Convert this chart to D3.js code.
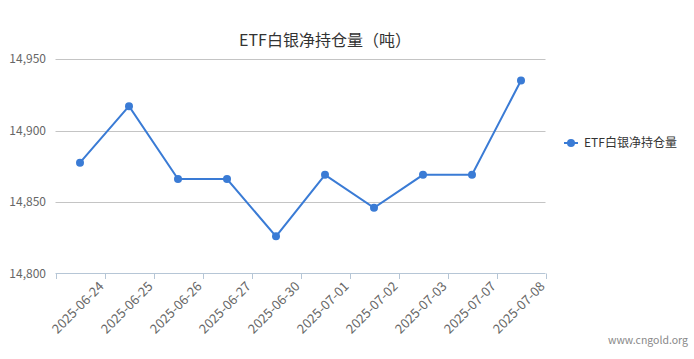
<!DOCTYPE html>
<html><head><meta charset="utf-8">
<script src="https://cdn.jsdelivr.net/npm/d3@7"></script>
<style>body{margin:0;background:#fff;} svg{display:block;font-family:"Noto Sans CJK SC","Microsoft YaHei",sans-serif;}</style>
</head><body>
<svg id="c" width="694" height="359"></svg>
<script>
const categories = ["2025-06-24","2025-06-25","2025-06-26","2025-06-27","2025-06-30","2025-07-01","2025-07-02","2025-07-03","2025-07-07","2025-07-08"];
const values = [14877.5, 14917, 14866, 14866, 14826, 14869, 14846, 14869, 14869, 14935];
const yTicks = [14800, 14850, 14900, 14950];
const seriesName = "ETF白银净持仓量";
const titleText = "ETF白银净持仓量（吨）";

(function () {
const svg = d3.select("#c");
const pLeft = 55.5, pRight = 545.5, pTop = 59, pBottom = 273.5;
const x = d3.scaleBand().domain(categories).range([pLeft, pRight]).padding(0);
const y = d3.scaleLinear().domain([14800, 14950]).range([pBottom, pTop]);
const bw = x.bandwidth();
const color = "#3a7bd5";

// grid
svg.append("g").selectAll("line").data(yTicks.filter(t => t !== 14800)).join("line")
  .attr("x1", pLeft).attr("x2", pRight)
  .attr("y1", d => Math.round(y(d)) + 0.5).attr("y2", d => Math.round(y(d)) + 0.5)
  .attr("stroke", "#c4c4c4").attr("stroke-width", 1);

// y labels
svg.append("g").selectAll("text").data(yTicks).join("text")
  .attr("x", 46).attr("y", d => y(d)).attr("dy", "0.35em")
  .attr("text-anchor", "end").attr("font-size", 12).attr("fill", "#666")
  .text(d => d3.format(",")(d));

// x axis
const ax = svg.append("g");
ax.append("line").attr("x1", pLeft).attr("x2", pRight).attr("y1", 273.5).attr("y2", 273.5)
  .attr("stroke", "#b6c6d6");
const edges = [x(categories[0])].concat(categories.map(c => x(c) + bw));
ax.selectAll("line.t").data(edges).join("line").attr("class", "t")
  .attr("x1", d => Math.round(d) + 0.5).attr("x2", d => Math.round(d) + 0.5)
  .attr("y1", 273.5).attr("y2", 279).attr("stroke", "#b6c6d6");
ax.selectAll("text").data(categories).join("text")
  .attr("transform", c => `translate(${x(c) + bw - 3},${284}) rotate(-45)`)
  .attr("text-anchor", "end").attr("dy", "0.35em")
  .attr("font-size", 13).attr("fill", "#666").text(c => c);

// line
const line = d3.line().x((d, i) => x(categories[i]) + bw / 2).y(d => y(d));
svg.append("path").datum(values).attr("d", line).attr("fill", "none")
  .attr("stroke", color).attr("stroke-width", 2);
svg.append("g").selectAll("circle").data(values).join("circle")
  .attr("cx", (d, i) => x(categories[i]) + bw / 2).attr("cy", d => y(d))
  .attr("r", 4).attr("fill", color);

// title
svg.append("text").attr("x", 325).attr("y", 46).attr("text-anchor", "middle")
  .attr("font-size", 16).attr("fill", "#333").text(titleText);

// legend
svg.append("line").attr("x1", 564).attr("x2", 578).attr("y1", 143).attr("y2", 143)
  .attr("stroke", color).attr("stroke-width", 2);
svg.append("circle").attr("cx", 571).attr("cy", 143).attr("r", 4).attr("fill", color);
svg.append("text").attr("x", 584).attr("y", 143).attr("dy", "0.35em")
  .attr("font-size", 12).attr("fill", "#333").text(seriesName);

// watermark
svg.append("text").attr("x", 688).attr("y", 340).attr("dy", "0.35em").attr("text-anchor", "end")
  .attr("font-size", 10.5).attr("fill", "#888").text("www.cngold.org");
})();
</script>
</body></html>
